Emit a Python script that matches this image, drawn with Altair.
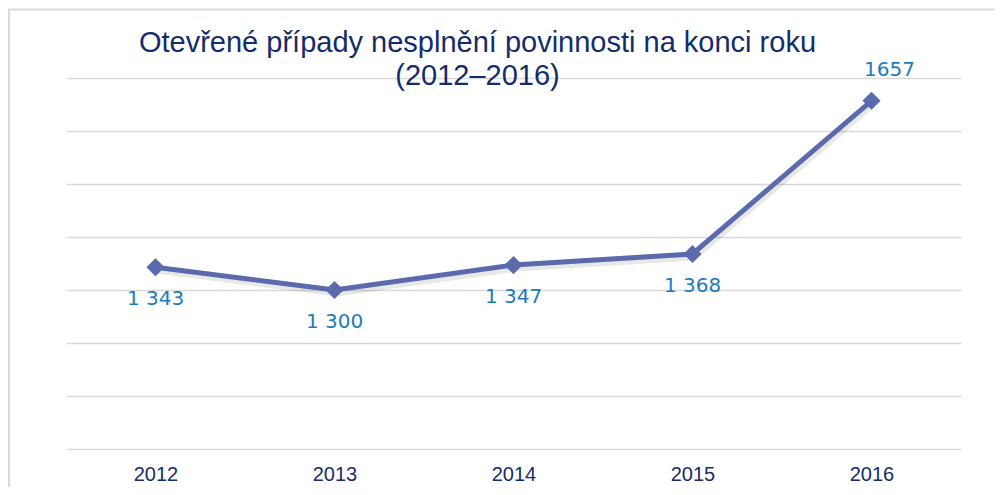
import altair as alt
import pandas as pd

years = ["2012", "2013", "2014", "2015", "2016"]
values = [1343, 1300, 1347, 1368, 1657]
labels = ["1 343", "1 300", "1 347", "1 368", "1657"]
y_ticks = [1000, 1100, 1200, 1300, 1400, 1500, 1600, 1700]
title_lines = ["Otevřené případy nesplnění povinnosti na konci roku", "(2012–2016)"]

df = pd.DataFrame({"year": years, "value": values, "label": labels})

LINE = "#5a6aad"
LABEL = "#1b7bbf"
NAVY = "#152c6c"

x_enc = alt.X("year:O", scale=alt.Scale(type="point", padding=0.5),
              axis=alt.Axis(title=None, labelAngle=0, ticks=False, domain=False,
                            labelFont="Liberation Sans", labelFontSize=20,
                            labelColor=NAVY, labelPadding=15, grid=False))
y_enc = alt.Y("value:Q", scale=alt.Scale(domain=[1000, 1700], nice=False, zero=False),
              axis=alt.Axis(title=None, labels=False, ticks=False, domain=False,
                            values=y_ticks, grid=True, gridColor="#d9d9d9", gridWidth=1.5))

base = alt.Chart(df)

frame = alt.Chart(alt.Data(values=[{}])).mark_rect(
    fill=None, stroke="#d9d9d9", strokeWidth=2
).encode(x=alt.value(-57), x2=alt.value(2000), y=alt.value(-68.5), y2=alt.value(2000))

shadow = base.mark_line(color="#000000", opacity=0.09, strokeWidth=5, yOffset=4, xOffset=2).encode(x=x_enc, y=y_enc)
line = base.mark_line(color=LINE, strokeWidth=5).encode(x=x_enc, y=y_enc)
pts = base.mark_point(shape="diamond", filled=True, opacity=1, color=LINE, size=330).encode(x=x_enc, y=y_enc)

txt_below = base.transform_filter("datum.year != '2016'").mark_text(
    font="DejaVu Sans", fontSize=20, color=LABEL, baseline="middle", dy=32
).encode(x=x_enc, y=y_enc, text="label:N")
txt_above = base.transform_filter("datum.year == '2016'").mark_text(
    font="DejaVu Sans", fontSize=20, color=LABEL, baseline="middle", dy=-31, dx=18
).encode(x=x_enc, y=y_enc, text="label:N")

chart = alt.layer(frame, shadow, line, pts, txt_below, txt_above).properties(
    width=895, height=371,
    background="white",
    title=alt.TitleParams(text=title_lines, font="Liberation Sans", fontSize=29,
                          fontWeight="normal", color=NAVY, lineHeight=33,
                          anchor="middle", dx=-36, dy=82, offset=0),
    autosize=alt.AutoSizeParams(type="none"),
    padding={"left": 58, "top": 70, "right": 34, "bottom": 38},
).configure_view(strokeWidth=0, stroke="transparent")

chart.save("out.html", embed_options={"renderer": "svg", "actions": False})
